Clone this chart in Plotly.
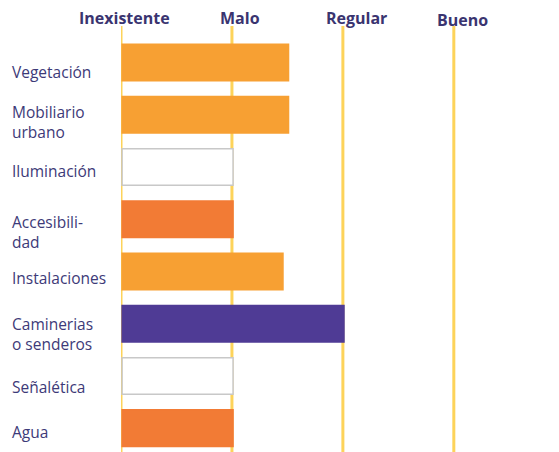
import plotly.graph_objects as go

categories = ["Vegetación", "Mobiliario<br>urbano", "Iluminación", "Accesibili-<br>dad",
              "Instalaciones", "Caminerias<br>o senderos", "Señalética", "Agua"]
values = [1.5, 1.5, 1.0, 1.0, 1.45, 2.0, 1.0, 1.0]
bar_colors = ["#F7A033", "#F7A033", "#FFFFFF", "#F27B35",
              "#F7A033", "#4F3B95", "#FFFFFF", "#F27B35"]
line_colors = ["#F7A033", "#F7A033", "#C8C8C8", "#F27B35",
               "#F7A033", "#4F3B95", "#C8C8C8", "#F27B35"]
scale_labels = ["Inexistente", "Malo", "Regular", "Bueno"]
scale_values = [0, 1, 2, 3]

ypos = list(range(len(categories)))

fig = go.Figure()
fig.add_trace(go.Bar(
    y=ypos, x=values, base=0.01, orientation="h",
    marker=dict(color=bar_colors, line=dict(color=line_colors, width=1.5)),
    width=0.7, hoverinfo="skip",
))

for v in scale_values:
    fig.add_shape(type="line", xref="x", yref="paper", x0=v, x1=v, y0=0, y1=1,
                  line=dict(color="#FDD35A", width=3), layer="below")

label_font = dict(family="Open Sans", size=15.5, color="#3D3A78")
label_yshift = [-9, -7, -4, -13, -7, -10, -11, -4]
for y, c, ys in zip(ypos, categories, label_yshift):
    fig.add_annotation(xref="paper", yref="y", x=-0.255, y=y, text=c, showarrow=False,
                       xanchor="left", yanchor="middle", align="left", yshift=ys,
                       font=label_font)

xshifts = [3, 8, 14, 9]
yshifts = [8, 8, 8, 6]
for v, t, xs, ys in zip(scale_values, scale_labels, xshifts, yshifts):
    fig.add_annotation(xref="x", yref="paper", x=v, y=1, text=f"<b>{t}</b>", showarrow=False,
                       xanchor="center", yanchor="middle", xshift=xs, yshift=ys,
                       font=dict(family="Open Sans", size=16, color="#3A3470"))

fig.update_layout(
    width=559, height=452,
    margin=dict(l=113, r=10, t=18, b=0),
    plot_bgcolor="white", paper_bgcolor="white",
    showlegend=False,
    xaxis=dict(range=[0, 3.93], showgrid=False, zeroline=False, showticklabels=False,
               fixedrange=True),
    yaxis=dict(range=[7.61, -0.70], showgrid=False, zeroline=False, showticklabels=False,
               fixedrange=True),
)

fig.write_html("out.html")
